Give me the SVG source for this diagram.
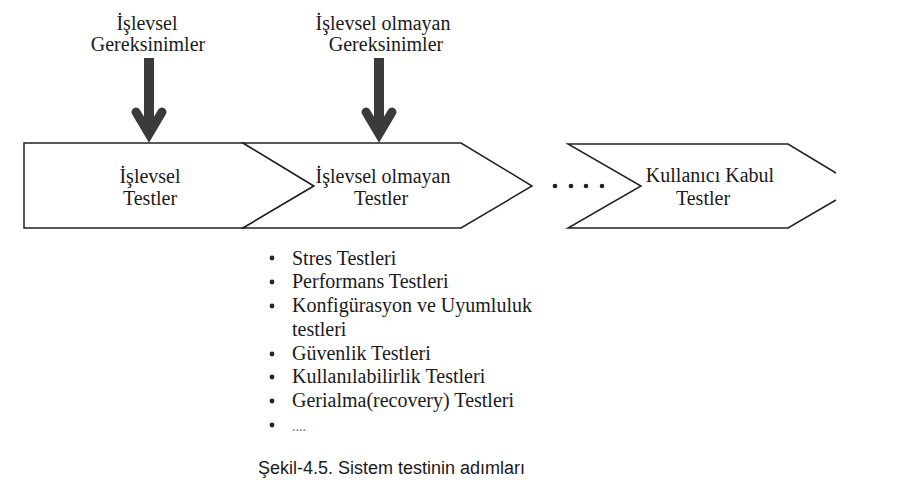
<svg xmlns="http://www.w3.org/2000/svg" width="923" height="490" viewBox="0 0 923 490">
<style>
.t{font-family:"Liberation Serif","Times New Roman",serif;font-size:20px;fill:#1a1a1a}
.m{text-anchor:middle}
.shape{fill:#fff;stroke:#222;stroke-width:1.5;stroke-linejoin:miter}
.shaft{fill:#3a3a3a}
.head{fill:none;stroke:#3a3a3a;stroke-width:9;stroke-linecap:round;stroke-linejoin:miter;stroke-miterlimit:10}
.cap{font-family:"Liberation Sans",Arial,sans-serif;font-size:18px;fill:#1a1a1a}
</style>
<rect width="923" height="490" fill="#fff"/>
<g id="node-islevsel-testler">
<path class="shape" d="M24,143 L243,143 L314,186 L243,228 L24,228 Z"/>
<text class="t m" x="150" y="183">İşlevsel</text>
<text class="t m" x="150" y="205">Testler</text>
</g>
<g id="node-islevsel-olmayan-testler">
<path class="shape" d="M243,143 L461,143 L532,186 L461,228 L243,228 L314,186 Z"/>
<text class="t m" x="383" y="183">İşlevsel olmayan</text>
<text class="t m" x="381" y="205">Testler</text>
</g>
<g id="node-dots">
<circle cx="555" cy="186" r="2.3" fill="#222"/>
<circle cx="571" cy="186" r="2.3" fill="#222"/>
<circle cx="586" cy="186" r="2.3" fill="#222"/>
<circle cx="602" cy="186" r="2.3" fill="#222"/>
</g>
<g id="node-kullanici-kabul">
<path class="shape" d="M836,173 L788,144 L568,144 L641,186 L568,228 L788,228 L836,200"/>
<text class="t m" x="710" y="182">Kullanıcı Kabul</text>
<text class="t m" x="703" y="205">Testler</text>
</g>
<g id="node-islevsel-gereksinimler">
<text class="t m" x="147" y="30">İşlevsel</text>
<text class="t m" x="148" y="51">Gereksinimler</text>
</g>
<g id="node-islevsel-olmayan-gereksinimler">
<text class="t m" x="383" y="30">İşlevsel olmayan</text>
<text class="t m" x="386" y="51">Gereksinimler</text>
</g>
<g id="connectors">
<g>
<rect class="shaft" x="144" y="58" width="10" height="72"/>
<polyline class="head" points="136,112 149,134 162,112"/>
</g>
<g>
<rect class="shaft" x="374" y="58" width="10" height="72"/>
<polyline class="head" points="366,112 379,134 392,112"/>
</g>
</g>
<g id="node-list">
<g fill="#222">
<circle cx="272" cy="258" r="2.4"/>
<circle cx="272" cy="282" r="2.4"/>
<circle cx="272" cy="306" r="2.4"/>
<circle cx="272" cy="354" r="2.4"/>
<circle cx="272" cy="377" r="2.4"/>
<circle cx="272" cy="401" r="2.4"/>
<circle cx="272" cy="425" r="2.4"/>
</g>
<text class="t" x="292" y="265">Stres Testleri</text>
<text class="t" x="292" y="288">Performans Testleri</text>
<text class="t" x="292" y="312">Konfigürasyon ve Uyumluluk</text>
<text class="t" x="292" y="336">testleri</text>
<text class="t" x="292" y="360">Güvenlik Testleri</text>
<text class="t" x="292" y="383">Kullanılabilirlik Testleri</text>
<text class="t" x="292" y="407">Gerialma(recovery) Testleri</text>
<text class="t" x="292" y="431" style="font-size:14px;fill:#666">....</text>
</g>
<text class="cap" x="258" y="474">Şekil-4.5. Sistem testinin adımları</text>
</svg>
